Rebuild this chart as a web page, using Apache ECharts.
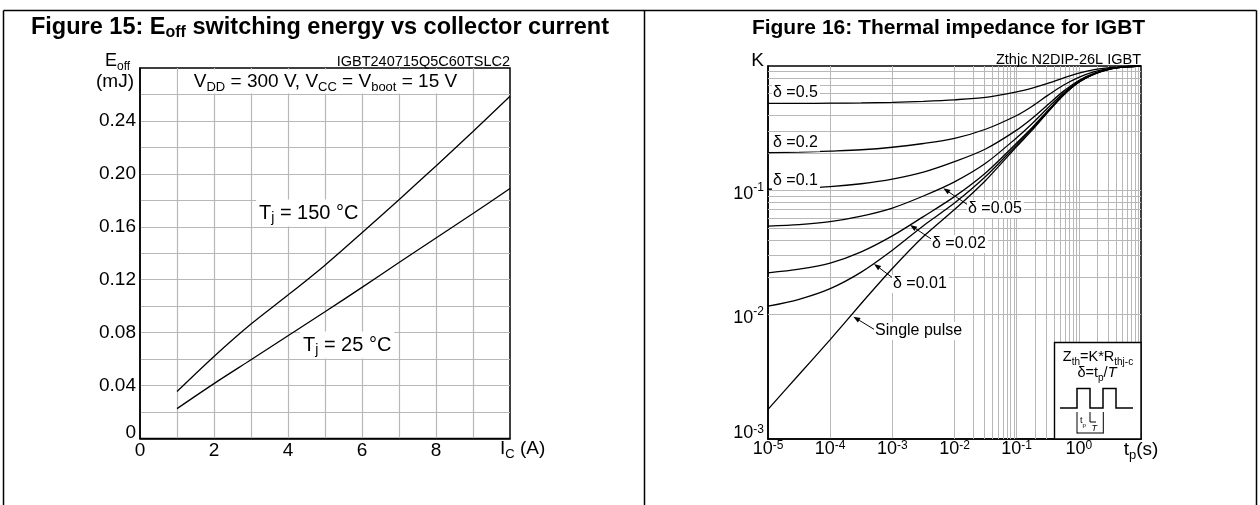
<!DOCTYPE html>
<html><head><meta charset="utf-8">
<script src="https://cdn.jsdelivr.net/npm/echarts@6/dist/echarts.min.js"></script>
<style>html,body{margin:0;padding:0;background:#fff;}#c{width:1260px;height:505px;}</style>
</head><body><div id="c"></div>
<script>
// ---------- Figure 15 data ----------
const icAmps    = [1, 2, 3, 4, 5, 6, 7, 8, 9, 10];
const eoffTj150 = [0.0355, 0.0620, 0.0865, 0.1084, 0.1310, 0.1555, 0.1805, 0.2060, 0.2320, 0.2586];
const eoffTj25  = [0.0226, 0.0415, 0.0595, 0.0776, 0.0958, 0.1142, 0.1330, 0.1515, 0.1700, 0.1890];
const icTicks   = [0, 2, 4, 6, 8];
const eoffTicks = [0, 0.04, 0.08, 0.12, 0.16, 0.20, 0.24];

// ---------- Figure 16 data ----------
const pulseTimes = [1e-5, 3.16e-5, 1e-4, 3.16e-4, 1e-3, 3.16e-3, 1e-2, 3.16e-2, 0.1, 0.178, 0.316, 0.562, 1, 1.78, 3.16, 5.62, 10];
const kDuty050 = [0.500, 0.500, 0.502, 0.505, 0.510, 0.520, 0.535, 0.560, 0.620, 0.665, 0.725, 0.800, 0.875, 0.935, 0.970, 0.990, 1.0];
const kDuty020 = [0.201, 0.203, 0.207, 0.212, 0.222, 0.238, 0.262, 0.310, 0.400, 0.475, 0.580, 0.700, 0.810, 0.900, 0.958, 0.988, 1.0];
const kDuty010 = [0.102, 0.104, 0.107, 0.113, 0.123, 0.140, 0.170, 0.215, 0.305, 0.380, 0.487, 0.625, 0.765, 0.875, 0.950, 0.987, 1.0];
const kDuty005 = [0.0516, 0.053, 0.056, 0.062, 0.072, 0.090, 0.117, 0.165, 0.265, 0.345, 0.460, 0.605, 0.753, 0.868, 0.948, 0.986, 1.0];
const kDuty002 = [0.0217, 0.0232, 0.026, 0.032, 0.043, 0.0615, 0.089, 0.138, 0.240, 0.320, 0.437, 0.590, 0.745, 0.864, 0.947, 0.985, 1.0];
const kDuty001 = [0.0117, 0.0133, 0.0162, 0.022, 0.033, 0.052, 0.079, 0.129, 0.232, 0.312, 0.430, 0.585, 0.742, 0.862, 0.946, 0.985, 1.0];
const kSingle  = [0.00173, 0.0033, 0.0063, 0.0123, 0.0235, 0.0425, 0.070, 0.120, 0.225, 0.305, 0.425, 0.580, 0.740, 0.860, 0.945, 0.985, 1.0];
const tpTickExp = [-5, -4, -3, -2, -1, 0];
const kTickExp  = [-3, -2, -1];

const FONT = '"Liberation Sans", Arial, Helvetica, sans-serif';
const GRAY = '#b8b8b8';
const BLACK = '#000';

// minor log gridlines (2..9 per decade)
const minorX = [], minorY = [];
for (let e = -5; e <= 0; e++) for (let m = 2; m <= 9; m++) minorX.push({ xAxis: m * Math.pow(10, e) });
for (let e = -3; e <= -1; e++) for (let m = 2; m <= 9; m++) minorY.push({ yAxis: m * Math.pow(10, e) });

const pairs = (xs, ys) => xs.map((x, i) => [x, ys[i]]);
const curve = (data, xi, smooth) => ({
  type: 'line', xAxisIndex: xi, yAxisIndex: xi, data: data, showSymbol: false, symbol: 'none',
  smooth: smooth, z: 5, silent: true, lineStyle: { color: BLACK, width: 1.3 }
});

const chart = echarts.init(document.getElementById('c'), null, { renderer: 'canvas' });

const supRich = {
  b: { fontSize: 18, lineHeight: 18, color: BLACK, fontFamily: FONT },
  s: { fontSize: 12, lineHeight: 12, color: BLACK, fontFamily: FONT, verticalAlign: 'top' }
};
const supRichY = {
  b: { fontSize: 18, lineHeight: 18, color: BLACK, fontFamily: FONT, padding: [7, 0, 0, 0] },
  s: { fontSize: 12, lineHeight: 12, color: BLACK, fontFamily: FONT, verticalAlign: 'top' },
  bl: { fontSize: 18, lineHeight: 18, color: BLACK, fontFamily: FONT },
  sl: { fontSize: 12, lineHeight: 12, color: BLACK, fontFamily: FONT, verticalAlign: 'top' },
  gap: { fontSize: 10, lineHeight: 12, color: '#fff', fontFamily: FONT }
};

function arrow(x1, y1, x2, y2) {
  const a = Math.atan2(y2 - y1, x2 - x1), L = 7, W = 2.6;
  const bx = x2 - L * Math.cos(a), by = y2 - L * Math.sin(a);
  const nx = -Math.sin(a), ny = Math.cos(a);
  return [
    { type: 'line', z: 50, silent: true, shape: { x1: x1, y1: y1, x2: bx, y2: by }, style: { stroke: BLACK, lineWidth: 1 } },
    { type: 'polygon', z: 50, silent: true, shape: { points: [[x2, y2], [bx + nx * W, by + ny * W], [bx - nx * W, by - ny * W]] }, style: { fill: BLACK } }
  ];
}
function txt(x, y, text, opts) {
  const o = opts || {};
  return {
    type: 'text', x: x, y: y, z: 60, silent: true,
    style: Object.assign({
      text: text, fill: BLACK, fontFamily: FONT, fontSize: 19,
      align: 'left', verticalAlign: 'middle'
    }, o)
  };
}
const subR = (fs) => ({
  n: { fontSize: fs, lineHeight: fs + 5, fill: BLACK, fontFamily: FONT },
  sb: { fontSize: Math.round(fs * 0.68), lineHeight: Math.round(fs * 0.68), fill: BLACK, fontFamily: FONT, verticalAlign: 'bottom' }
});
const line = (x1, y1, x2, y2, w) => ({ type: 'line', z: 62, silent: true, shape: { x1, y1, x2, y2 }, style: { stroke: BLACK, lineWidth: w || 1 } });

const graphics = [
  // frame
  line(3.5, 10.5, 1256.5, 10.5, 1.5), line(3.5, 10.5, 3.5, 505, 1.5),
  line(644.5, 10.5, 644.5, 505, 1.5), line(1256.5, 10.5, 1256.5, 505, 1.5),
  // titles
  txt(320, 28, '{t|Figure 15: E}{ts|off}{t| switching energy vs collector current}', {
    align: 'center', rich: {
      t: { fontSize: 23.5, fontWeight: 'bold', lineHeight: 26, fill: BLACK, fontFamily: FONT },
      ts: { fontSize: 16, fontWeight: 'bold', lineHeight: 18, fill: BLACK, fontFamily: FONT, verticalAlign: 'bottom' }
    }
  }),
  txt(948.5, 28, 'Figure 16: Thermal impedance for IGBT', { align: 'center', fontSize: 21, fontWeight: 'bold' }),
  // Fig 15 annotations
  txt(510, 61.5, 'IGBT240715Q5C60TSLC2', { align: 'right', fontSize: 14.5 }),
  txt(105, 61, '{n|E}{sb|off}', { rich: subR(18) }),
  txt(134, 82, '(mJ)', { align: 'right', fontSize: 19 }),
  { type: 'rect', z: 40, silent: true, shape: { x: 178, y: 69.5, width: 294, height: 24 }, style: { fill: '#fff' } },
  txt(325.5, 82, '{n|V}{sb|DD}{n| = 300 V, V}{sb|CC}{n| = V}{sb|boot}{n| = 15 V}', { align: 'center', rich: subR(19) }),
  txt(256, 213, '{n|T}{sb|j}{n| = 150 °C}', { rich: subR(20), backgroundColor: '#fff', padding: [1, 3, 1, 3] }),
  txt(300, 345, '{n|T}{sb|j}{n| = 25 °C}', { rich: subR(20), backgroundColor: '#fff', padding: [1, 3, 1, 3] }),
  txt(500, 449, '{n|I}{sb|C}{n| (A)}', { rich: subR(19) }),
  // Fig 16 annotations
  txt(764, 61, 'K', { align: 'right', fontSize: 19 }),
  txt(1141, 59.5, 'Zthjc N2DIP-26L IGBT', { align: 'right', fontSize: 14.5 }),
  txt(1141, 450, '{n|t}{sb|p}{n|(s)}', { align: 'center', rich: subR(19) }),
  txt(772, 92.5, 'δ =0.5', { fontSize: 16, backgroundColor: '#fff', padding: [1, 2, 1, 1] }),
  txt(772, 142.5, 'δ =0.2', { fontSize: 16, backgroundColor: '#fff', padding: [1, 2, 1, 1] }),
  txt(772, 181, 'δ =0.1', { fontSize: 16, backgroundColor: '#fff', padding: [1, 2, 1, 1] }),
  txt(967, 209, 'δ =0.05', { fontSize: 16, backgroundColor: '#fff', padding: [1, 2, 1, 1] }),
  txt(931, 244, 'δ =0.02', { fontSize: 16, backgroundColor: '#fff', padding: [1, 2, 1, 1] }),
  txt(892, 284, 'δ =0.01', { fontSize: 16, backgroundColor: '#fff', padding: [1, 2, 1, 1] }),
  txt(874, 331, 'Single pulse', { fontSize: 16, backgroundColor: '#fff', padding: [1, 2, 1, 1] })
].concat(
  arrow(968, 205, 943.3, 188.3),
  arrow(931.7, 239.3, 910, 225),
  arrow(893.3, 278.3, 874, 264),
  arrow(874, 329.3, 853.3, 316.7),
  [
    // legend box
    { type: 'rect', z: 58, silent: true, shape: { x: 1054.5, y: 342.5, width: 86.5, height: 96.5 }, style: { fill: '#fff', stroke: BLACK, lineWidth: 1.4 } },
    txt(1098, 357, '{n|Z}{sb|th}{n|=K*R}{sb|thj-c}', { align: 'center', rich: subR(14.5) }),
    txt(1097, 373, '{n|δ=t}{sb|p}{n|/}{it|T}', { align: 'center', rich: Object.assign(subR(14.5), { it: { fontSize: 14.5, lineHeight: 19.5, fontStyle: 'italic', fill: BLACK, fontFamily: FONT } }) }),
    { type: 'polyline', z: 62, silent: true, shape: { points: [[1060, 408], [1077, 408], [1077, 388.5], [1090, 388.5], [1090, 408], [1103, 408], [1103, 388.5], [1116, 388.5], [1116, 408], [1133, 408]] }, style: { stroke: BLACK, lineWidth: 1.5, fill: null } },
    line(1077, 412, 1077, 433.5, 1), line(1103.3, 412, 1103.3, 433.5, 1), line(1077, 433, 1103.3, 433, 1),
    line(1090, 412, 1090, 422, 1), line(1090, 422, 1096, 422, 1),
    txt(1080, 421, '{n|t}{sb|p}', { rich: subR(9) }),
    txt(1091.5, 428, 'T', { fontSize: 9, fontStyle: 'italic' })
  ],
  arrow(1060, 421.7, 1076.5, 421.7)
);

const option = {
  animation: false,
  backgroundColor: '#fff',
  textStyle: { fontFamily: FONT },
  grid: [
    { left: 140, top: 68, width: 370, height: 370.5, show: true, borderColor: BLACK, borderWidth: 1.5, backgroundColor: '#fff', outerBoundsMode: 'none' },
    { left: 768, top: 66, width: 373, height: 373, show: true, borderColor: BLACK, borderWidth: 1.5, backgroundColor: '#fff', outerBoundsMode: 'none' }
  ],
  xAxis: [
    {
      type: 'value', gridIndex: 0, min: 0, max: 10, interval: 1,
      axisLine: { show: true, onZero: false, lineStyle: { color: BLACK, width: 1.5 } },
      axisTick: { show: false },
      splitLine: { show: true, showMinLine: false, showMaxLine: false, lineStyle: { color: GRAY, width: 1.2 } },
      axisLabel: { margin: 3, color: BLACK, fontSize: 19, fontFamily: FONT, showMinLabel: true, showMaxLabel: true,
        formatter: v => icTicks.indexOf(Math.round(v)) >= 0 ? String(Math.round(v)) : '' }
    },
    {
      type: 'log', logBase: 10, gridIndex: 1, min: 1e-5, max: 10,
      axisLine: { show: true, onZero: false, lineStyle: { color: BLACK, width: 1.5 } },
      axisTick: { show: false },
      splitLine: { show: true, showMinLine: false, showMaxLine: false, lineStyle: { color: GRAY, width: 1 } },
      axisLabel: { margin: 1, color: BLACK, showMinLabel: true, showMaxLabel: true, rich: supRich,
        formatter: v => { const e = Math.round(Math.log10(v)); return tpTickExp.indexOf(e) >= 0 ? '{b|10}{s|' + e + '}' : ''; } }
    }
  ],
  yAxis: [
    {
      type: 'value', gridIndex: 0, min: 0, max: 0.28, interval: 0.02,
      axisLine: { show: true, onZero: false, lineStyle: { color: BLACK, width: 1.5 } },
      axisTick: { show: false },
      splitLine: { show: true, showMinLine: false, showMaxLine: false, lineStyle: { color: GRAY, width: 1.2 } },
      axisLabel: { margin: 4, color: BLACK, fontSize: 19, fontFamily: FONT, showMinLabel: true, showMaxLabel: true,
        rich: { lift: { fontSize: 19, color: BLACK, fontFamily: FONT, padding: [0, 0, 12, 0] } },
        formatter: v => {
          const r = Math.round(v * 100) / 100;
          if (!eoffTicks.some(t => Math.abs(t - r) < 1e-9)) return '';
          return r === 0 ? '{lift|0}' : r.toFixed(2);
        } }
    },
    {
      type: 'log', logBase: 10, gridIndex: 1, min: 1e-3, max: 1,
      axisLine: { show: true, onZero: false, lineStyle: { color: BLACK, width: 1.5 } },
      axisTick: { show: false },
      splitLine: { show: true, showMinLine: false, showMaxLine: false, lineStyle: { color: GRAY, width: 1 } },
      axisLabel: { margin: 4, color: BLACK, showMinLabel: true, showMaxLabel: true, rich: supRichY,
        formatter: v => {
          const e = Math.round(Math.log10(v));
          if (kTickExp.indexOf(e) < 0) return '';
          return e === -3 ? '{bl|10}{sl|-3}\n{gap| }' : '{b|10}{s|' + e + '}';
        } }
    }
  ],
  series: [
    curve(pairs(icAmps, eoffTj150), 0, 0.3),
    curve(pairs(icAmps, eoffTj25), 0, 0.3),
    {
      type: 'line', xAxisIndex: 1, yAxisIndex: 1, data: [], z: 1, silent: true,
      markLine: { silent: true, symbol: ['none', 'none'], animation: false, label: { show: false },
        lineStyle: { color: GRAY, width: 1, type: 'solid' }, emphasis: { disabled: true },
        data: minorX.concat(minorY) }
    },
    curve(pairs(pulseTimes, kDuty050), 1, 0.3),
    curve(pairs(pulseTimes, kDuty020), 1, 0.3),
    curve(pairs(pulseTimes, kDuty010), 1, 0.3),
    curve(pairs(pulseTimes, kDuty005), 1, 0.3),
    curve(pairs(pulseTimes, kDuty002), 1, 0.3),
    curve(pairs(pulseTimes, kDuty001), 1, 0.3),
    curve(pairs(pulseTimes, kSingle), 1, 0.2)
  ],
  graphic: { elements: graphics }
};
chart.setOption(option);
</script></body></html>
